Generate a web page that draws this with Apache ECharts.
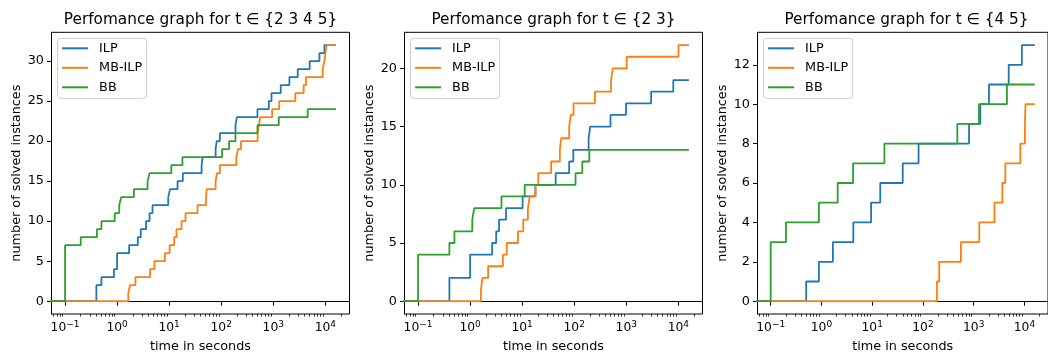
<!DOCTYPE html>
<html>
<head>
<meta charset="utf-8">
<script src="https://cdn.jsdelivr.net/npm/echarts@6/dist/echarts.min.js"></script>
<style>
html, body { margin: 0; padding: 0; background: #fff; }
#chart { width: 1048px; height: 358px; }
</style>
</head>
<body>
<div id="chart"></div>
<script>
// data: [time in s, solved instances], step after each time
const START_T = 0.001;
const END_T = 16000;
const FIRST_T = 0.1;

const titles = ['Perfomance graph for t ∈ {2 3 4 5}', 'Perfomance graph for t ∈ {2 3}', 'Perfomance graph for t ∈ {4 5}'];
const methods = ['ILP', 'MB-ILP', 'BB'];
const colors = ['#1f77b4', '#ff7f0e', '#2ca02c'];

const ilpAll = [[0.4,2],[0.5,3],[0.87,4],[1.0,6],[1.7,7],[2.5,8],[2.85,9],[3.6,10],[4.2,11],[4.8,12],[9.6,13],[10.4,14],[14.5,15],[18.3,16],[42,17],[44,18],[78,19],[82,20],[94,21],[188,22],[200,23],[497,24],[820,25],[925,26],[1390,27],[2040,28],[2950,29],[5000,30],[7700,31],[9600,32]];
const mbAll = [[1.64,1],[1.77,2],[2.25,3],[4.3,4],[5.2,5],[8.3,6],[10.2,7],[12.5,8],[13.8,9],[17.3,10],[20.6,11],[35,12],[51,13],[53,14],[78,15],[83,16],[94,17],[195,18],[210,19],[240,20],[500,21],[530,22],[560,23],[950,24],[1300,25],[2650,26],[3830,27],[4250,28],[8900,29],[9600,30],[10000,31],[10600,32]];
const bbAll = [[0.1,7],[0.2,8],[0.41,9],[0.5,10],[0.9,11],[1.1,12],[1.2,13],[2.1,14],[3.85,15],[4.2,16],[11,17],[18,18],[104,19],[142,20],[188,21],[497,22],[1275,23],[4580,24]];

const ilp23 = [[0.4,2],[1.0,4],[2.65,5],[3.17,6],[3.6,7],[4.9,8],[10.2,9],[18,10],[44,11],[80,12],[96,13],[189,14],[203,15],[498,16],[990,17],[3000,18],[8000,19]];
const mb23 = [[1.61,1],[1.74,2],[2.22,3],[4.27,4],[5.07,5],[8.3,6],[10.5,7],[12.9,8],[14,9],[18,10],[20.4,11],[36,12],[53,13],[56,14],[80,15],[86,16],[97,17],[250,18],[510,19],[550,20],[1020,21],[10100,22]];
const bb23 = [[0.1,4],[0.4,5],[0.5,6],[1.1,7],[1.2,8],[4.0,9],[11.2,10],[106,11],[143,12],[195,13]];

const ilp45 = [[0.5,1],[0.89,2],[1.68,3],[4.25,4],[9.5,5],[14.4,6],[40,7],[82,8],[810,9],[1350,10],[2000,11],[4900,12],[8900,13]];
const mb45 = [[189,1],[209,2],[560,3],[1290,4],[2570,5],[3670,6],[4200,7],[8300,8],[10200,9],[10500,10]];
const bb45 = [[0.1,3],[0.2,4],[0.89,5],[2.09,6],[4.2,7],[17.4,8],[476,9],[1270,10],[4520,11]];

const xTicks = [0.1, 1, 10, 100, 1000, 10000];
const yTicks = [[0,5,10,15,20,25,30], [0,5,10,15,20], [0,2,4,6,8,10,12]];

const panels = [[ilpAll, mbAll, bbAll], [ilp23, mb23, bb23], [ilp45, mb45, bb45]];

const FONT = 'DejaVu Sans';
const gridLefts = [51.5, 404.5, 757.5];
const gridTop = 32.3, gridW = 298, gridH = 289.4;

// minor ticks 2..9 of every decade
const minorTicks = [];
for (let e = -2; e <= 4; e++) {
  for (let k = 2; k <= 9; k++) minorTicks.push(+(k * Math.pow(10, e)).toPrecision(3));
}

const lo = Math.log10(FIRST_T), hi = Math.log10(END_T);
const xMin = Math.pow(10, lo - 0.05 * (hi - lo));
const xMax = Math.pow(10, hi + 0.05 * (hi - lo));

function stepData(pts) {
  return [[START_T, 0]].concat(pts, [[END_T, pts[pts.length - 1][1]]]);
}

function expLabel(v) {
  const e = Math.round(Math.log10(v));
  return '{b|10}{s|' + (e < 0 ? '\u2212' + (-e) : e) + '}';
}

const grid = [], xAxis = [], yAxis = [], series = [], title = [], legend = [];
panels.forEach(function (p, i) {
  const yMaxData = Math.max.apply(null, p.map(function (s) { return s[s.length - 1][1]; }));
  grid.push({ left: gridLefts[i], top: gridTop, width: gridW, height: gridH,
    show: true, borderColor: '#000', borderWidth: 1, backgroundColor: 'transparent' });
  title.push({ text: titles[i], left: gridLefts[i] + gridW / 2, top: 13, textAlign: 'center', padding: 0,
    textStyle: { fontFamily: FONT, fontSize: 15.3, fontWeight: 'normal', color: '#000' } });
  xAxis.push({
    gridIndex: i, type: 'log', logBase: 10, min: xMin, max: xMax, position: 'bottom',
    axisLine: { show: true, lineStyle: { color: '#000', width: 1 } },
    axisTick: { show: true, length: 4.5, customValues: xTicks, lineStyle: { color: '#000', width: 1 } },
    axisLabel: { customValues: xTicks, margin: 6, formatter: expLabel,
      rich: {
        b: { fontFamily: FONT, fontSize: 12.3, color: '#000', lineHeight: 16 },
        s: { fontFamily: FONT, fontSize: 9, color: '#000', verticalAlign: 'top', lineHeight: 10 }
      } },
    splitLine: { show: false }, minorTick: { show: false },
    name: 'time in seconds', nameLocation: 'middle', nameGap: 26,
    nameTextStyle: { fontFamily: FONT, fontSize: 12.8, color: '#000' }
  });
  xAxis.push({
    gridIndex: i, type: 'log', logBase: 10, min: xMin, max: xMax, position: 'bottom',
    axisLine: { show: false },
    axisTick: { show: true, length: 2.6, customValues: minorTicks, lineStyle: { color: '#000', width: 0.8 } },
    axisLabel: { show: false }, splitLine: { show: false }
  });
  yAxis.push({
    gridIndex: i, type: 'value', min: -0.05 * yMaxData, max: 1.05 * yMaxData,
    axisLine: { show: true, lineStyle: { color: '#000', width: 1 } },
    axisTick: { show: true, length: 4.5, customValues: yTicks[i], lineStyle: { color: '#000', width: 1 } },
    axisLabel: { customValues: yTicks[i], margin: 7.5, fontFamily: FONT, fontSize: 12.8, color: '#000' },
    splitLine: { show: false },
    name: 'number of solved instances', nameLocation: 'middle', nameGap: 28,
    nameTextStyle: { fontFamily: FONT, fontSize: 12.8, color: '#000' }
  });
  p.forEach(function (pts, j) {
    series.push({
      name: methods[j], type: 'line', step: 'end', xAxisIndex: i * 2, yAxisIndex: i,
      data: stepData(pts), showSymbol: false, symbol: 'none', clip: true,
      color: colors[j], lineStyle: { color: colors[j], width: 1.8 }, animation: false
    });
  });
  legend.push({
    left: gridLefts[i] + 6, top: 38.3, orient: 'vertical', data: methods, selectedMode: false,
    icon: 'rect', itemWidth: 26, itemHeight: 2, itemGap: 5.5,
    textStyle: { fontFamily: FONT, fontSize: 12.8, color: '#000', lineHeight: 14, padding: [0, 0, 0, 6] },
    backgroundColor: 'rgba(255,255,255,0.8)', borderColor: '#cccccc', borderWidth: 1, borderRadius: 3,
    padding: [3, 4.5, 4, 4.6]
  });
});

const chart = echarts.init(document.getElementById('chart'), null, { renderer: 'canvas' });
chart.setOption({ animation: false, backgroundColor: '#fff', title: title, legend: legend,
  grid: grid, xAxis: xAxis, yAxis: yAxis, series: series });
</script>
</body>
</html>
